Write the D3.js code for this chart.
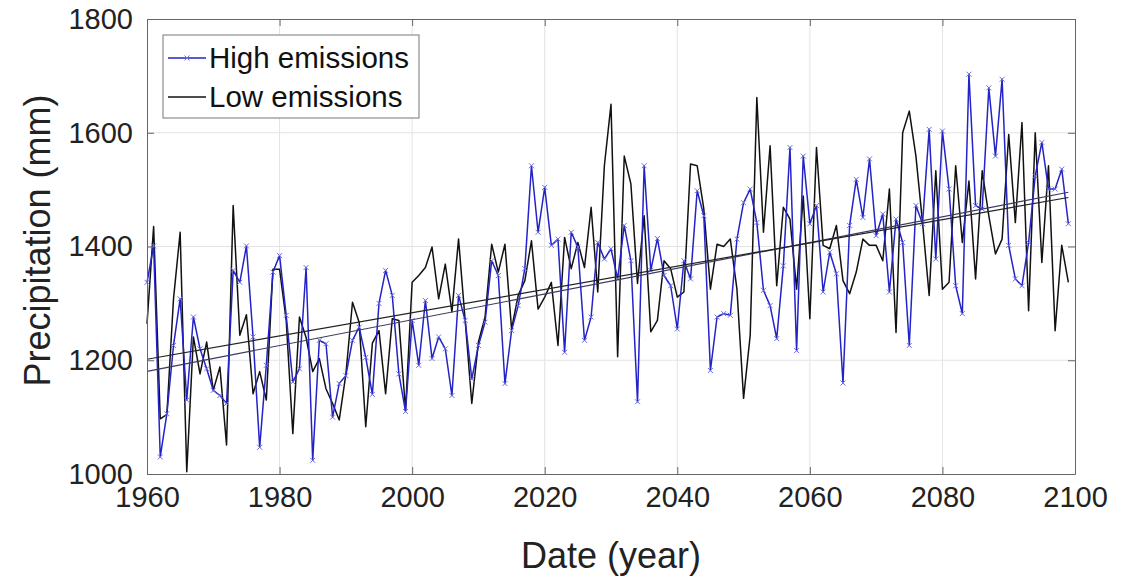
<!DOCTYPE html>
<html>
<head>
<meta charset="utf-8">
<script src="https://cdn.jsdelivr.net/npm/d3@7"></script>
<style>
  body { margin: 0; background: #fff; }
  svg { font-family: "Liberation Sans", Arial, sans-serif; }
  .grid line { stroke: #e3e3e3; stroke-width: 1; }
  .axis text { font-size: 29px; fill: #222; }
</style>
</head>
<body>
<div id="chart"></div>
<script>
// years 1960..2099, one value per year
const startYear = 1960;
const highEmissions = [
  1337, 1401, 1030, 1106, 1226, 1308, 1130, 1276, 1220, 1185,
  1147, 1138, 1124, 1358, 1337, 1401, 1241, 1047, 1191, 1355,
  1384, 1279, 1162, 1185, 1363, 1024, 1235, 1229, 1100, 1159,
  1173, 1235, 1258, 1205, 1140, 1300, 1358, 1314, 1176, 1110,
  1270, 1191, 1305, 1203, 1241, 1220, 1138, 1314, 1270, 1167,
  1226, 1267, 1375, 1349, 1159, 1252, 1296, 1361, 1542, 1425,
  1504, 1402, 1413, 1214, 1425, 1399, 1235, 1276, 1407, 1378,
  1396, 1343, 1437, 1375, 1127, 1542, 1358, 1414, 1349, 1331,
  1255, 1375, 1343, 1498, 1454, 1182, 1276, 1282, 1279, 1413,
  1477, 1501, 1442, 1323, 1296, 1238, 1366, 1574, 1217, 1559,
  1440, 1472, 1320, 1390, 1352, 1160, 1437, 1518, 1451, 1554,
  1419, 1457, 1320, 1448, 1407, 1226, 1472, 1440, 1606, 1378,
  1603, 1501, 1331, 1282, 1703, 1472, 1466, 1679, 1559, 1694,
  1402, 1343, 1331, 1407, 1524, 1583, 1501, 1501, 1536, 1440
];
const lowEmissions = [
  1264, 1435, 1097, 1105, 1308, 1425, 1004, 1241, 1176, 1232,
  1147, 1188, 1051, 1472, 1244, 1280, 1141, 1180, 1130, 1360,
  1360, 1270, 1071, 1276, 1240, 1180, 1203, 1150, 1124, 1095,
  1175, 1302, 1267, 1083, 1230, 1252, 1141, 1273, 1270, 1112,
  1337, 1349, 1363, 1399, 1308, 1369, 1285, 1413, 1270, 1124,
  1232, 1276, 1404, 1355, 1404, 1255, 1314, 1340, 1410, 1290,
  1311, 1337, 1226, 1416, 1361, 1407, 1363, 1469, 1320, 1542,
  1650, 1206, 1559, 1510, 1335, 1454, 1250, 1270, 1375, 1361,
  1311, 1320, 1545, 1542, 1466, 1325, 1404, 1400, 1413, 1325,
  1133, 1244, 1662, 1425, 1577, 1331, 1469, 1448, 1325, 1489,
  1273, 1574, 1402, 1396, 1437, 1340, 1317, 1355, 1413, 1402,
  1402, 1375, 1501, 1249, 1600, 1638, 1559, 1442, 1314, 1533,
  1325, 1337, 1542, 1407, 1515, 1343, 1533, 1454, 1387, 1413,
  1597, 1442, 1618, 1287, 1600, 1372, 1542, 1252, 1402, 1337
];
const xTicks = [1960, 1980, 2000, 2020, 2040, 2060, 2080, 2100];
const yTicks = [1000, 1200, 1400, 1600, 1800];
const seriesNames = ["High emissions", "Low emissions"];

const width = 1140, height = 583;
const margin = { top: 19, right: 65, bottom: 109, left: 147 };

const svg = d3.select("#chart").append("svg")
  .attr("width", width).attr("height", height);

const x = d3.scaleLinear().domain([1960, 2100])
  .range([margin.left, width - margin.right]);
const y = d3.scaleLinear().domain([1000, 1800])
  .range([height - margin.bottom, margin.top]);

const years = d3.range(highEmissions.length).map(i => startYear + i);
const high = years.map((yr, i) => ({ yr, v: highEmissions[i] }));
const low = years.map((yr, i) => ({ yr, v: lowEmissions[i] }));

// grid
svg.append("g").attr("class", "grid")
  .selectAll("line.v").data(xTicks.slice(1, -1)).enter().append("line")
  .attr("x1", d => x(d)).attr("x2", d => x(d))
  .attr("y1", y(1000)).attr("y2", y(1800));
svg.append("g").attr("class", "grid")
  .selectAll("line.h").data(yTicks.slice(1, -1)).enter().append("line")
  .attr("x1", x(1960)).attr("x2", x(2100))
  .attr("y1", d => y(d)).attr("y2", d => y(d));

// least-squares trend of a series
function trend(data) {
  const mx = d3.mean(data, d => d.yr), my = d3.mean(data, d => d.v);
  const b = d3.sum(data, d => (d.yr - mx) * (d.v - my)) / d3.sum(data, d => (d.yr - mx) ** 2);
  const a = my - b * mx;
  return [data[0].yr, data[data.length - 1].yr].map(t => ({ yr: t, v: a + b * t }));
}

const line = d3.line().x(d => x(d.yr)).y(d => y(d.v));

svg.append("path").datum(low)
  .attr("fill", "none").attr("stroke", "#111").attr("stroke-width", 1.5)
  .attr("stroke-linejoin", "round").attr("d", line);

svg.append("path").datum(high)
  .attr("fill", "none").attr("stroke", "#2323c8").attr("stroke-width", 1.5)
  .attr("stroke-linejoin", "round").attr("d", line);

// x markers on the high series
const mk = 2.5;
svg.append("g").selectAll("path").data(high).enter().append("path")
  .attr("d", d => `M${x(d.yr) - mk},${y(d.v) - mk}L${x(d.yr) + mk},${y(d.v) + mk}M${x(d.yr) - mk},${y(d.v) + mk}L${x(d.yr) + mk},${y(d.v) - mk}`)
  .attr("stroke", "#6f6fe0").attr("stroke-width", 1);

// trend lines
svg.append("path").datum(trend(high))
  .attr("fill", "none").attr("stroke", "#3a3a60").attr("stroke-width", 1.2).attr("d", line);
svg.append("path").datum(trend(low))
  .attr("fill", "none").attr("stroke", "#222").attr("stroke-width", 1.2).attr("d", line);

// axes (MATLAB style box, ticks inward)
const tickLen = 7;
svg.append("g").attr("class", "axis")
  .attr("transform", `translate(0,${y(1000)})`)
  .call(d3.axisBottom(x).tickValues(xTicks).tickFormat(d3.format("d")).tickSizeInner(-tickLen).tickSizeOuter(0).tickPadding(12));
svg.append("g").attr("class", "axis")
  .attr("transform", `translate(${x(1960)},0)`)
  .call(d3.axisLeft(y).tickValues(yTicks).tickFormat(d3.format("d")).tickSizeInner(-tickLen).tickSizeOuter(0).tickPadding(14));
svg.append("g").attr("transform", `translate(0,${y(1800)})`)
  .call(d3.axisTop(x).tickValues(xTicks).tickFormat("").tickSizeInner(-tickLen).tickSizeOuter(0));
svg.append("g").attr("transform", `translate(${x(2100)},0)`)
  .call(d3.axisRight(y).tickValues(yTicks).tickFormat("").tickSizeInner(-tickLen).tickSizeOuter(0));
svg.selectAll(".domain, .tick line").attr("stroke", "#666");

// axis titles
svg.append("text")
  .attr("x", (x(1960) + x(2100)) / 2).attr("y", 568)
  .attr("text-anchor", "middle").attr("font-size", 36).attr("fill", "#222")
  .text("Date (year)");
svg.append("text")
  .attr("transform", `translate(50,${(y(1000) + y(1800)) / 2 - 6}) rotate(-90)`)
  .attr("text-anchor", "middle").attr("font-size", 36).attr("fill", "#222")
  .text("Precipitation (mm)");

// legend
const lg = svg.append("g").attr("transform", "translate(163,35)");
lg.append("rect").attr("width", 256).attr("height", 83)
  .attr("fill", "#fff").attr("stroke", "#777");
const entries = [
  { name: seriesNames[0], color: "#2323c8", marker: true },
  { name: seriesNames[1], color: "#111", marker: false }
];
entries.forEach((e, i) => {
  const cy = 23 + i * 39;
  lg.append("line").attr("x1", 5).attr("x2", 43).attr("y1", cy).attr("y2", cy)
    .attr("stroke", e.color).attr("stroke-width", 1.5);
  if (e.marker) {
    lg.append("path")
      .attr("d", `M${24 - mk},${cy - mk}L${24 + mk},${cy + mk}M${24 - mk},${cy + mk}L${24 + mk},${cy - mk}`)
      .attr("stroke", "#6f6fe0").attr("stroke-width", 1);
  }
  lg.append("text").attr("x", 46).attr("y", cy + 10)
    .attr("font-size", 29.5).attr("fill", "#111").text(e.name);
});
</script>
</body>
</html>
